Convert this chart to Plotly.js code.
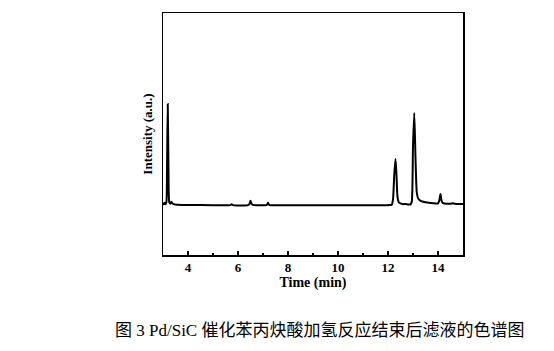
<!DOCTYPE html>
<html>
<head>
<meta charset="utf-8">
<script src="https://cdn.plot.ly/plotly-3.0.1.min.js"></script>
<style>html,body{margin:0;padding:0;background:#fff;}#chart{width:554px;height:351px;}</style>
</head>
<body>
<div id="chart"></div>
<script>
// Retention time (min)
const time = [3.00,3.03,3.06,3.09,3.13,3.16,3.19,3.22,3.25,3.29,3.33,3.37,3.45,3.60,4.00,5.00,5.70,5.75,5.80,6.40,6.46,6.50,6.54,6.60,7.15,7.20,7.25,8.00,10.00,12.00,12.15,12.20,12.25,12.30,12.34,12.38,12.43,12.50,12.60,12.70,12.80,12.90,12.95,13.00,13.05,13.10,13.15,13.20,13.30,13.50,13.80,14.00,14.05,14.10,14.14,14.20,14.50,14.60,14.65,15.00];
// Detector signal (a.u.)
const intensity = [21.2,21.0,21.6,21.0,21.5,35.0,62.4,35.0,21.8,21.2,22.0,21.4,20.9,20.8,20.7,20.6,20.6,21.0,20.6,20.6,21.2,22.4,21.2,20.7,20.7,21.6,20.7,20.6,20.6,20.6,20.8,23.0,33.0,39.7,33.0,24.0,21.8,21.3,21.0,21.1,20.9,20.9,22.0,45.0,58.7,40.0,26.0,23.5,22.4,21.8,21.4,21.3,22.5,25.2,22.5,21.4,21.2,21.4,21.2,21.1];
const xTickVals = [4,6,8,10,12,14];
const xTickText = ['4','6','8','10','12','14'];
const caption = '图 3 Pd/SiC 催化苯丙炔酸加氢反应结束后滤液的色谱图';

const serif = 'Liberation Serif, Times New Roman, serif';
const trace = {
  x: time, y: intensity, type: 'scatter', mode: 'lines',
  line: {color: '#000', width: 2, shape: 'spline', smoothing: 0.6},
  hoverinfo: 'skip'
};
const layout = {
  width: 554, height: 351,
  margin: {l: 163, r: 91, t: 13, b: 96},
  paper_bgcolor: '#fff', plot_bgcolor: '#fff',
  showlegend: false,
  xaxis: {
    range: [3, 15], showgrid: false, zeroline: false,
    showline: true, mirror: true, linecolor: '#000', linewidth: 1.5,
    ticks: 'inside', ticklen: 4, tickwidth: 1.5, tickcolor: '#000',
    tickvals: xTickVals, ticktext: xTickText,
    tickfont: {family: serif, size: 13, color: '#000', weight: 'bold'},
    minor: {dtick: 1, tick0: 3, ticks: 'inside', ticklen: 2, tickwidth: 1.5, tickcolor: '#000'},
    title: {text: '<b>Time (min)</b>', font: {family: serif, size: 14, color: '#000'}, standoff: 3}
  },
  yaxis: {
    range: [0, 100], showgrid: false, zeroline: false,
    showline: true, mirror: true, linecolor: '#000', linewidth: 1.5,
    ticks: '', showticklabels: false,
    title: {text: '<b>Intensity (a.u.)</b>', font: {family: serif, size: 13, color: '#000'}, standoff: 6}
  },
  annotations: [{
    text: caption, xref: 'paper', yref: 'paper', x: 0.52, y: -0.31,
    xanchor: 'center', yanchor: 'middle', showarrow: false,
    font: {family: 'Liberation Serif, Noto Sans CJK SC, serif', size: 17, color: '#000'}
  }]
};
Plotly.newPlot('chart', [trace], layout, {staticPlot: true, displayModeBar: false});
</script>
</body>
</html>
